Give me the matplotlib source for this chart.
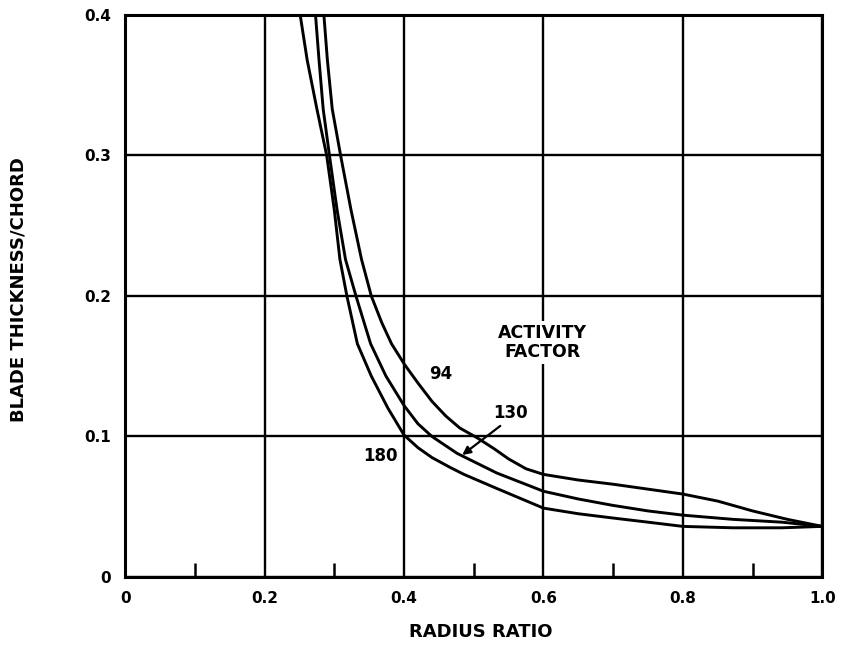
import matplotlib
matplotlib.use("Agg")
import matplotlib.pyplot as plt
from matplotlib.ticker import FixedLocator

# curves, one per activity factor
x_94 = [0.285, 0.290, 0.297, 0.309, 0.324, 0.339, 0.353, 0.368, 0.382, 0.401, 0.420, 0.440,
        0.460, 0.480, 0.505, 0.530, 0.550, 0.575, 0.600, 0.650, 0.700, 0.750, 0.800,
        0.850, 0.900, 0.950, 1.000]
y_94 = [0.400, 0.368, 0.333, 0.300, 0.261, 0.226, 0.200, 0.181, 0.166, 0.151, 0.138, 0.125,
        0.1145, 0.106, 0.099, 0.091, 0.084, 0.077, 0.073, 0.069, 0.066, 0.0625, 0.059,
        0.054, 0.047, 0.041, 0.036]

x_130 = [0.273, 0.278, 0.284, 0.293, 0.304, 0.316, 0.331, 0.352, 0.374, 0.400, 0.420, 0.440,
         0.476, 0.533, 0.600, 0.650, 0.699, 0.750, 0.800, 0.872, 0.942, 1.000]
y_130 = [0.400, 0.368, 0.333, 0.300, 0.261, 0.226, 0.200, 0.166, 0.143, 0.122, 0.109, 0.100,
         0.088, 0.074, 0.061, 0.0555, 0.051, 0.047, 0.044, 0.041, 0.039, 0.036]

x_180 = [0.251, 0.261, 0.275, 0.289, 0.300, 0.308, 0.318, 0.333, 0.353, 0.377, 0.400, 0.420,
         0.440, 0.466, 0.486, 0.533, 0.600, 0.650, 0.699, 0.750, 0.800, 0.872, 0.942, 1.000]
y_180 = [0.400, 0.368, 0.333, 0.300, 0.261, 0.226, 0.200, 0.166, 0.143, 0.120, 0.101, 0.092,
         0.085, 0.078, 0.073, 0.063, 0.049, 0.045, 0.042, 0.039, 0.036, 0.035, 0.035, 0.036]

x_ticks = [0, 0.2, 0.4, 0.6, 0.8, 1.0]
x_labels = ["0", "0.2", "0.4", "0.6", "0.8", "1.0"]
y_ticks = [0, 0.1, 0.2, 0.3, 0.4]
y_labels = ["0", "0.1", "0.2", "0.3", "0.4"]
x_minor = [0.1, 0.3, 0.5, 0.7, 0.9]

fig = plt.figure(figsize=(8.46, 6.48), dpi=100)
ax = fig.add_axes([0.148, 0.1096, 0.824, 0.8674])

for xs, ys in [(x_94, y_94), (x_130, y_130), (x_180, y_180)]:
    ax.plot(xs, ys, color="black", lw=2.1, solid_joinstyle="round",
            solid_capstyle="round", zorder=3)

ax.set_xlim(0, 1.0)
ax.set_ylim(0, 0.4)
ax.xaxis.set_major_locator(FixedLocator(x_ticks))
ax.yaxis.set_major_locator(FixedLocator(y_ticks))
ax.xaxis.set_minor_locator(FixedLocator(x_minor))
ax.set_xticklabels(x_labels, fontsize=11, fontweight="bold")
ax.set_yticklabels(y_labels, fontsize=11, fontweight="bold")
ax.tick_params(which="major", length=0, pad=10)
ax.tick_params(axis="x", which="minor", direction="in", length=10, width=1.8)
ax.tick_params(axis="y", which="minor", length=0)
ax.grid(True, which="major", color="black", lw=1.7)
for s in ax.spines.values():
    s.set_linewidth(2.2)

# labels inside the plot
ax.text(0.598, 0.167, "ACTIVITY\nFACTOR", ha="center", va="center",
        fontsize=12.5, fontweight="bold", linespacing=1.1, zorder=4,
        bbox=dict(facecolor="white", edgecolor="none", pad=2))
ax.text(0.452, 0.1445, "94", ha="center", va="center", fontsize=12, fontweight="bold")
ax.text(0.552, 0.117, "130", ha="center", va="center", fontsize=12, fontweight="bold")
ax.text(0.366, 0.086, "180", ha="center", va="center", fontsize=12, fontweight="bold")
ax.annotate("", xy=(0.4835, 0.0868), xytext=(0.538, 0.1075),
            arrowprops=dict(arrowstyle="-|>", color="black", lw=1.6,
                            mutation_scale=12, shrinkA=0, shrinkB=0), zorder=4)

fig.text(19 / 846, 1 - 290 / 648, "BLADE THICKNESS/CHORD", rotation=90,
         ha="center", va="center", fontsize=13, fontweight="bold")
fig.text(481 / 846, 1 - 632 / 648, "RADIUS RATIO", ha="center", va="center",
         fontsize=13, fontweight="bold")

fig.savefig("out.png", dpi=100, facecolor="white")
